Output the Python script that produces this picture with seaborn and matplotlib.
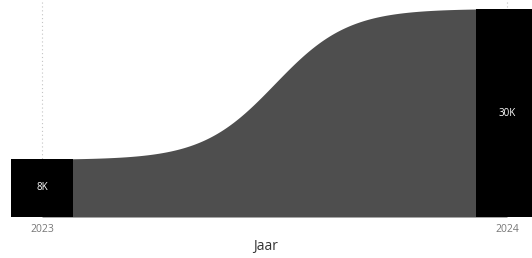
import numpy as np
import pandas as pd
import matplotlib
matplotlib.use("Agg")
import matplotlib.pyplot as plt
import seaborn as sns

years = ["2023", "2024"]
values = [8400, 30000]
value_labels = ["8K", "30K"]

sns.set_theme(style="white")
plt.rcParams["font.family"] = ["Open Sans", "DejaVu Sans"]

df = pd.DataFrame({"Jaar": years, "Waarde": values})

fig = plt.figure(figsize=(5.32, 2.58), dpi=100)
ax = fig.add_axes([0, 41 / 258, 1, 217 / 258])

bw = 0.133
sns.barplot(data=df, x="Jaar", y="Waarde", color="black", width=bw,
            saturation=1, linewidth=0, edgecolor="none", ax=ax, zorder=3)

# ribbon connecting the two bars (extends under the bars to avoid seams)
x0, x1 = 0 + bw / 2, 1 - bw / 2
t = np.linspace(0, 1, 300)
k = 11
s = 1 / (1 + np.exp(-k * (t - 0.5)))
s = (s - s[0]) / (s[-1] - s[0])
xs = np.concatenate([[0], x0 + (x1 - x0) * t, [1]])
ys = values[0] + (values[1] - values[0]) * np.concatenate([[0], s, [1]])
ax.fill_between(xs, 0, ys, color="#4e4e4e", lw=0, zorder=2)

for i, (v, lab) in enumerate(zip(values, value_labels)):
    ax.text(i, v / 2, lab, color="white", ha="center", va="center",
            fontsize=7, zorder=5)

ax.set_xlim(-42 / 465, 490 / 465)
ax.set_ylim(0, 30000 * 217 / 208)

for i in range(len(years)):
    ax.axvline(i, color="#c4c4c4", lw=0.8, ls=(0, (1, 2.5)), zorder=1)

for sp in ax.spines.values():
    sp.set_visible(False)
ax.set_yticks([])
ax.tick_params(axis="x", length=0, pad=5, labelsize=7.5, labelcolor="#777777")
ax.set_xlabel("Jaar", fontsize=10, color="#333333", labelpad=3)
ax.set_ylabel("")

fig.savefig("out.png", dpi=100)
